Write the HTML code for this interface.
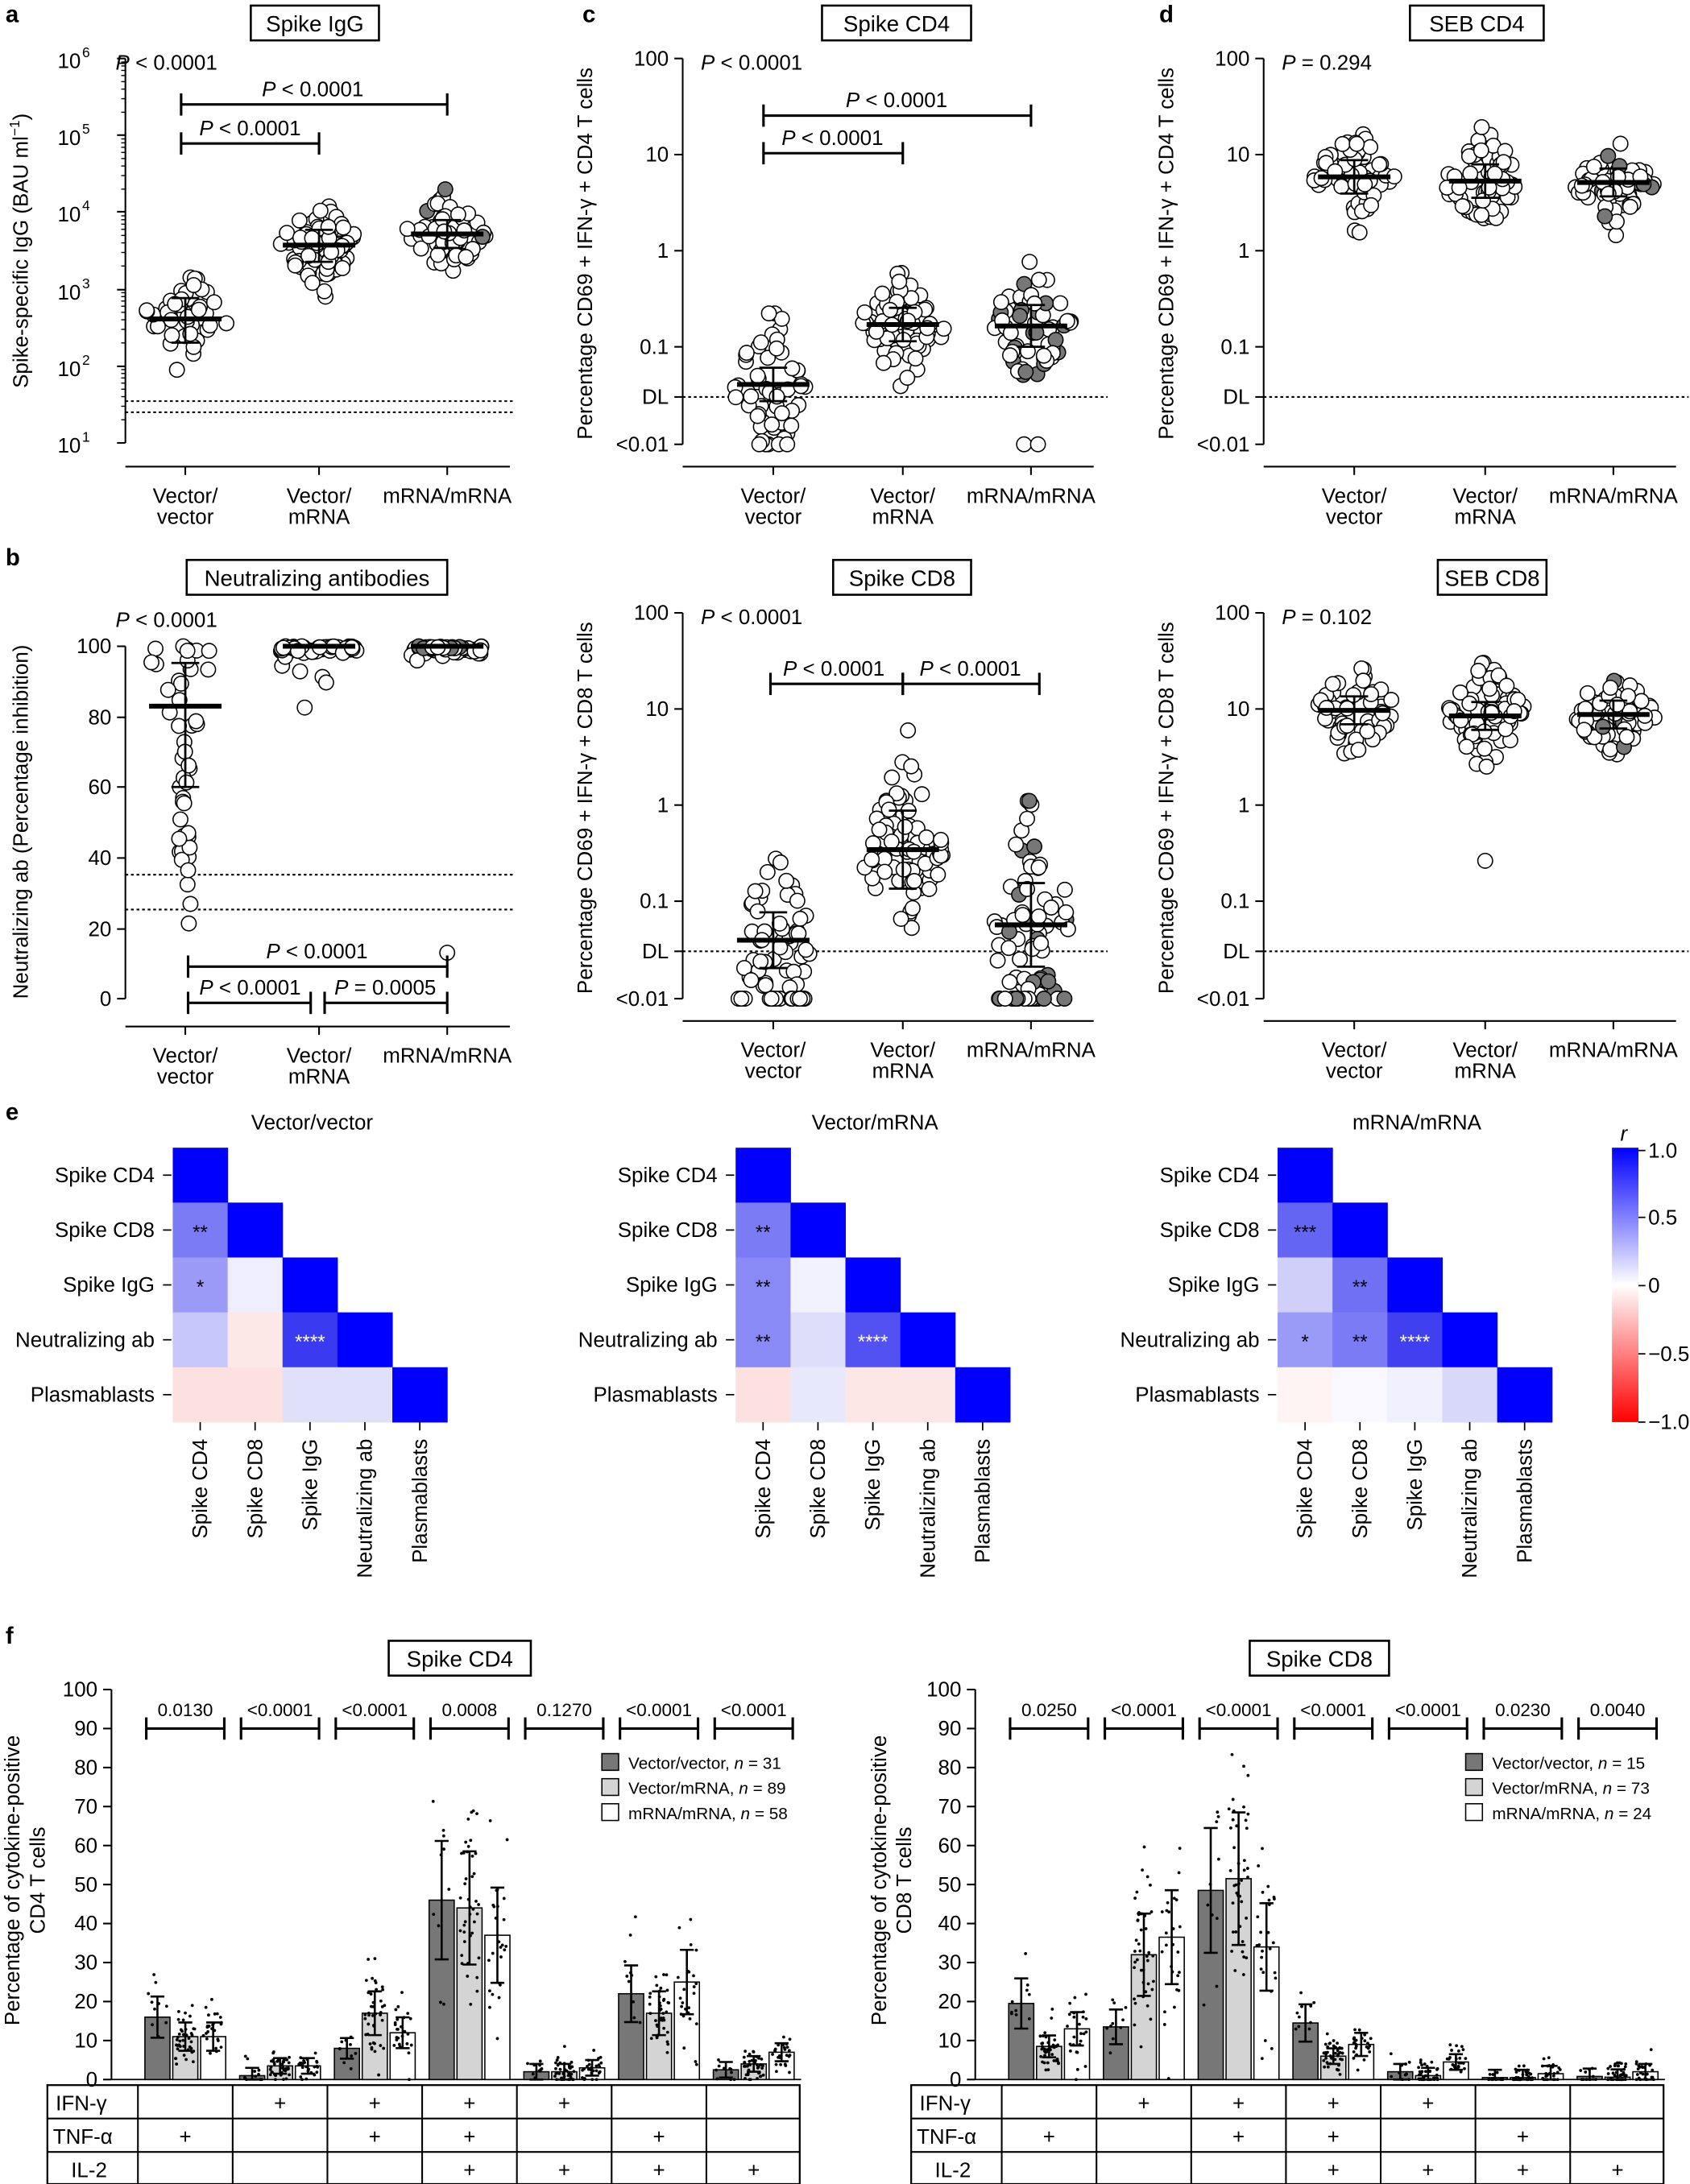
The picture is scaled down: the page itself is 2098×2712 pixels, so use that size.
<!DOCTYPE html>
<html><head><meta charset="utf-8">
<style>
html,body{margin:0;padding:0;background:#fff;}
svg{display:block;font-family:"Liberation Sans",Arial,sans-serif;}
</style></head>
<body>
<svg id="s" xmlns="http://www.w3.org/2000/svg" width="2098" height="2712" viewBox="0 0 1213 1568" preserveAspectRatio="none">
<rect width="1213" height="1568" fill="#fff"/>
</svg>
<script>
const S=document.getElementById('s');
let seed=12345;
function rnd(){seed=(seed*1103515245+12345)%2147483648;return seed/2147483648;}
function gauss(){let u=rnd()||1e-6,v=rnd();return Math.sqrt(-2*Math.log(u))*Math.cos(2*Math.PI*v);}
let out='';
function el(t,a,inner){let s='<'+t;for(const k in a)s+=' '+k+'="'+a[k]+'"';out+=inner!==undefined?s+'>'+inner+'</'+t+'>':s+'/>';}
function line(x1,y1,x2,y2,w,dash){el('line',{x1,y1,x2,y2,stroke:'#000','stroke-width':w||1.2,'stroke-dasharray':dash||'none'});}
function text(x,y,t,sz,anchor,extra){let a={x,y,'font-size':sz||15,'text-anchor':anchor||'start',fill:'#000'};if(extra)Object.assign(a,extra);el('text',a,t);}
function box(x1,y1,x2,y2,t){el('rect',{x:x1,y:y1,width:x2-x1,height:y2-y1,fill:'#fff',stroke:'#000','stroke-width':1.5});text((x1+x2)/2,(y1+y2)/2+6,t,16,'middle');}
function bracket(x1,x2,y,t,ty){line(x1,y,x2,y,1.8);line(x1,y-8,x1,y+8,1.8);line(x2,y-8,x2,y+8,1.8);if(t)text((x1+x2)/2,ty!==undefined?ty:y-6,t,15,'middle');}
function ptext(x,y,op,val){out+='<text x="'+x+'" y="'+y+'" font-size="15"><tspan font-style="italic">P</tspan> '+op+' '+val+'</text>';}
function swarm(cx,cy,sd,n,lo,hi,grey){
  for(let i=0;i<n;i++){let d=gauss()*sd;let y=Math.max(lo,Math.min(hi,cy+d));
    let w=26*Math.exp(-(d*d)/(2*sd*sd))+4;let x=cx+(rnd()*2-1)*w;
    el('circle',{cx:x.toFixed(1),cy:y.toFixed(1),r:5.3,fill:(grey&&rnd()<0.15)?'#777':'#fff',stroke:'#000','stroke-width':0.9});}
}
function medbar(cx,m,lo,hi){line(cx,lo,cx,hi,1.6);line(cx-10,lo,cx+10,lo,1.6);line(cx-10,hi,cx+10,hi,1.6);line(cx-26,m,cx+26,m,3.5);}
function letter(x,y,t){text(x,y,t,17,'start',{'font-weight':'bold'});}
function yaxis(x,ticks){
  let ys=ticks.map(t=>t[0]);line(x,Math.min(...ys),x,Math.max(...ys),1.2);
  ticks.forEach(t=>{line(x-6,t[0],x,t[0],1.2);if(typeof t[1]==='string')text(x-10,t[0]+5,t[1],15,'end');else out+=t[1](x-10,t[0]+5);});
}
function ylabel(x,y,t){out+='<text x="'+x+'" y="'+y+'" font-size="15" text-anchor="middle" transform="rotate(-90 '+x+' '+y+')">'+t+'</text>';}
function xgroups(ax,xs,y){line(ax,y,xs[2]+45,y,1.2);xs.forEach(x=>line(x,y,x,y+6,1.2));
  text(xs[0],y+26,'Vector/',15,'middle');text(xs[0],y+41,'vector',15,'middle');
  text(xs[1],y+26,'Vector/',15,'middle');text(xs[1],y+41,'mRNA',15,'middle');
  text(xs[2],y+26,'mRNA/mRNA',15,'middle');}
function pow(e){return (x,y)=>'<text x="'+(x-22)+'" y="'+(y+2)+'" font-size="15" text-anchor="end">10</text><text x="'+(x-21)+'" y="'+(y-6)+'" font-size="10" text-anchor="start">'+e+'</text>';}

// ---------- Panel a ----------
letter(4,16,'a');box(180,4,272,29,'Spike IgG');
yaxis(90,[[42,pow(6)],[97,pow(5)],[152,pow(4)],[208,pow(3)],[263,pow(2)],[318,pow(1)]]);
for(let y=42;y<318;y+=55.2){for(let k=2;k<10;k++){let yy=y+55.2*(1-Math.log10(k));line(87,yy,90,yy,0.8);}}
ylabel(20,180,'Spike-specific IgG (BAU ml<tspan font-size="10" dy="-6">−1</tspan><tspan dy="6">)</tspan>');
line(90,288,370,288,1.2,'2,2');line(90,296,370,296,1.2,'2,2');
xgroups(90,[133,229,321],335);
swarm(133,229,18,48,170,305);medbar(133,229,214,246);
swarm(229,176,14,80,130,225);medbar(229,176,165,188);
swarm(321,168,14,60,128,282,true);medbar(321,168,158,178);
ptext(83,50,'&lt;','0.0001');
bracket(130,321,75);ptext(188,69,'&lt;','0.0001');
bracket(130,229,103);ptext(143,97,'&lt;','0.0001');

// ---------- Panel b ----------
letter(4,406,'b');box(134,402,321,427,'Neutralizing antibodies');
yaxis(90,[[464,'100'],[515,'80'],[565,'60'],[616,'40'],[667,'20'],[717,'0']]);
ylabel(20,590,'Neutralizing ab (Percentage inhibition)');
line(90,628,370,628,1.2,'2,2');line(90,653,370,653,1.2,'2,2');
xgroups(90,[133,229,321],737);
for(let i=0;i<45;i++){let y=464+Math.pow(rnd(),1.8)*170;if(i<3)y=635+i*14;let w=30*Math.max(0.15,1-(y-464)/80);el('circle',{cx:(133+(rnd()*2-1)*w).toFixed(1),cy:y.toFixed(1),r:5.3,fill:'#fff',stroke:'#000','stroke-width':0.9});}
medbar(133,507,476,565);
for(let i=0;i<60;i++){let y=464+Math.abs(gauss())*2;if(i<4)y=478+i*4;if(i==4)y=508;el('circle',{cx:(229+(rnd()*2-1)*28).toFixed(1),cy:y.toFixed(1),r:5.3,fill:'#fff',stroke:'#000','stroke-width':0.9});}
line(203,464,255,464,3.5);
for(let i=0;i<55;i++){let y=464+Math.abs(gauss())*3;el('circle',{cx:(321+(rnd()*2-1)*26).toFixed(1),cy:y.toFixed(1),r:5.3,fill:rnd()<0.2?'#777':'#fff',stroke:'#000','stroke-width':0.9});}
el('circle',{cx:321,cy:684,r:5.3,fill:'#fff',stroke:'#000','stroke-width':0.9});
line(295,464,347,464,3.5);
ptext(83,450,'&lt;','0.0001');
bracket(135,321,694);ptext(191,688,'&lt;','0.0001');
bracket(135,223,720);ptext(143,714,'&lt;','0.0001');
bracket(233,321,720);ptext(240,714,'=','0.0005');

// ---------- log panels c/d ----------
function logpanel(ax,top,xs,title,tb,ylab,groups){
  let T=[[top,'100'],[top+69,'10'],[top+138,'1'],[top+207,'0.1'],[top+243,'DL'],[top+277,'&lt;0.01']];
  box(tb[0],top-38,tb[1],top-13,title);
  yaxis(ax,T);ylabel(ax-65,top+140,ylab);
  line(ax,top+243,ax+305,top+243,1.2,'2,2');
  xgroups(ax,xs,top+293);
  groups.forEach((g,i)=>{swarm(xs[i],g[0],g[1],g[2],g[3],top+277,g[5]);medbar(xs[i],g[0],g[0]-g[4],g[0]+g[4]);});
}
letter(418,16,'c');
logpanel(490,42,[555,648,740],'Spike CD4',[590,697],'Percentage CD69 + IFN-γ + CD4 T cells',
 [[276,22,55,225,12],[233,20,75,185,12,false],[234,22,60,188,15,true]]);
[[545,319],[565,319],[735,319],[745,319]].forEach(p=>el('circle',{cx:p[0],cy:p[1],r:5.3,fill:'#fff',stroke:'#000','stroke-width':0.9}));
ptext(503,50,'&lt;','0.0001');
bracket(548,740,83);ptext(607,77,'&lt;','0.0001');
bracket(548,648,110);ptext(561,104,'&lt;','0.0001');

letter(832,16,'d');
logpanel(907,42,[972,1066,1158],'SEB CD4',[1012,1108],'Percentage CD69 + IFN-γ + CD4 T cells',
 [[127,16,60,78,12],[130,16,60,85,12],[131,12,60,95,10,true]]);
out+='<text x="920" y="50" font-size="15"><tspan font-style="italic">P</tspan> = 0.294</text>';

logpanel(490,440,[555,648,740],'Spike CD8',[598,697],'Percentage CD69 + IFN-γ + CD8 T cells',
 [[675,28,55,568,20],[610,30,85,440,28],[664,40,65,575,30,true]]);
for(let i=0;i<12;i++){el('circle',{cx:(530+rnd()*50).toFixed(1),cy:717,r:5.3,fill:'#fff',stroke:'#000','stroke-width':0.9});el('circle',{cx:(715+rnd()*52).toFixed(1),cy:717,r:5.3,fill:rnd()<0.3?'#777':'#fff',stroke:'#000','stroke-width':0.9});}
ptext(503,448,'&lt;','0.0001');
bracket(553,648,491);ptext(562,485,'&lt;','0.0001');
bracket(648,746,491);ptext(660,485,'&lt;','0.0001');

logpanel(907,440,[972,1066,1158],'SEB CD8',[1032,1110],'Percentage CD69 + IFN-γ + CD8 T cells',
 [[510,16,55,450,10],[514,17,75,460,10],[513,15,60,470,10,true]]);
el('circle',{cx:1066,cy:618,r:5.3,fill:'#fff',stroke:'#000','stroke-width':0.9});
out+='<text x="920" y="448" font-size="15"><tspan font-style="italic">P</tspan> = 0.102</text>';

// ---------- Panel e ----------
letter(4,804,'e');
const rows=['Spike CD4','Spike CD8','Spike IgG','Neutralizing ab','Plasmablasts'];
function heat(x0,title,cols,stars){
  text(x0+100,811,title,15,'middle');
  const c=39.4;
  for(let i=0;i<5;i++){
    let y=824+i*c;
    text(x0-13,y+c/2+5,rows[i],15,'end');line(x0-7,y+c/2,x0-1,y+c/2,1);
    for(let j=0;j<=i;j++){
      let col=i==j?'#0000ff':cols[i][j];
      el('rect',{x:x0+j*c,y,width:c+0.3,height:c+0.3,fill:col});
      let st=stars[i]&&stars[i][j];
      if(st)text(x0+j*c+c/2,y+c/2+6,st,14,'middle',{fill:st.length==4?'#fff':'#000'});
    }
  }
  for(let j=0;j<5;j++){let x=x0+j*c+c/2;line(x,1021,x,1027,1);
    out+='<text x="'+(x+5)+'" y="1033" font-size="15" text-anchor="end" transform="rotate(-90 '+(x+5)+' 1033)">'+rows[j]+'</text>';}
}
heat(124,'Vector/vector',[[],['#7b7bf5'],['#9b9bf7','#eeeefe'],['#c6c6fa','#fde8e8','#3a3af0'],['#fde0e0','#fde0e0','#e0e0fb','#e0e0fb']],
 [[],['**'],['*'],[0,0,'****']]);
heat(528,'Vector/mRNA',[[],['#7b7bf5'],['#8a8af6','#f2f2fe'],['#8a8af6','#dedefb','#5252f2'],['#fde0e0','#e8e8fc','#fde6e6','#fde6e6']],
 [[],['**'],['**'],['**',0,'****']]);
heat(917,'mRNA/mRNA',[[],['#6565f3'],['#cfcffa','#7070f4'],['#9a9af7','#7b7bf5','#4040f0'],['#fff4f4','#f8f8fe','#f0f0fe','#d8d8fb']],
 [[],['***'],[0,'**'],['*','**','****']]);
out+='<defs><linearGradient id="cb" x1="0" y1="0" x2="0" y2="1"><stop offset="0" stop-color="#0000ff"/><stop offset="0.5" stop-color="#ffffff"/><stop offset="1" stop-color="#ff0000"/></linearGradient></defs>';
el('rect',{x:1157,y:824,width:19,height:197,fill:'url(#cb)'});
[[826,'1.0'],[874,'0.5'],[923,'0'],[972,'−0.5'],[1021,'−1.0']].forEach(t=>{line(1176,t[0],1181,t[0],1);text(1183,t[0]+5,t[1],15);});
text(1163,819,'r',15,'start',{'font-style':'italic'});

// ---------- Panel f ----------
letter(4,1180,'f');
function barchart(ax,title,tb,vals,pv,ns,ylab,lx1,lx2){
  box(tb[0],1178,tb[1],1203,title);
  const y0=1493,k=2.8;
  let T=[];for(let v=0;v<=100;v+=10)T.push([y0-v*k,''+v]);
  yaxis(ax,T);line(ax,y0,ax+495,y0,1);
  ylabel(lx1,1350,'Percentage of cytokine-positive');ylabel(lx2,1350,ylab);
  const fills=['#777','#d4d4d4','#fff'];
  for(let g=0;g<7;g++){
    let cx=ax+53+g*68;
    bracket(cx-28,cx+28,1241);text(cx,1232,pv[g],13,'middle');
    for(let b=0;b<3;b++){
      let v=vals[g][b],x=cx-29+b*20,h=v*k;
      el('rect',{x,y:y0-h,width:18,height:h,fill:fills[b],stroke:'#000','stroke-width':0.9});
      let sd=Math.max(2,v*0.33);let n=[10,40,25][b];
      for(let i=0;i<n;i++){let vv=Math.max(0,v+gauss()*sd);el('circle',{cx:(x+2+rnd()*14).toFixed(1),cy:(y0-vv*k).toFixed(1),r:1.1,fill:'#000'});}
      let lo=Math.max(0,v-sd),hi=v+sd;let cxx=x+9;
      line(cxx,y0-lo*k,cxx,y0-hi*k,1.5);line(cxx-5,y0-lo*k,cxx+5,y0-lo*k,1.5);line(cxx-5,y0-hi*k,cxx+5,y0-hi*k,1.5);
    }
  }
  let lx=ax+352;
  ['Vector/vector, ','Vector/mRNA, ','mRNA/mRNA, '].forEach((t,i)=>{let y=1259+i*18;
    el('rect',{x:lx,y,width:12,height:12,fill:fills[i],stroke:'#000','stroke-width':0.9});
    out+='<text x="'+(lx+19)+'" y="'+(y+11)+'" font-size="12">'+t+'<tspan font-style="italic">n</tspan> = '+ns[i]+'</text>';});
  let tx0=ax-46,tx1=ax+494;
  el('rect',{x:tx0,y:1497,width:tx1-tx0,height:71,fill:'none',stroke:'#000','stroke-width':1.3});
  line(tx0,1521,tx1,1521,1.2);line(tx0,1545,tx1,1545,1.2);
  for(let g=0;g<7;g++)line(ax+19+g*68,1497,ax+19+g*68,1568,1.2);
  text(tx0+6,1515,'IFN-γ',15);text(tx0+4,1539,'TNF-α',15);text(tx0+17,1563,'IL-2',15);
  const M=[[0,1,1,1,1,0,0],[1,0,1,1,0,1,0],[0,0,0,1,1,1,1]];
  M.forEach((r,ri)=>r.forEach((m,g)=>{if(m)text(ax+53+g*68,1515+ri*24,'+',15,'middle');}));
}
barchart(80,'Spike CD4',[279,381],[[16,11,11],[1,3.5,3.5],[8,17,12],[46,44,37],[2,2,3],[22,17,25],[2.5,4,7]],
 ['0.0130','&lt;0.0001','&lt;0.0001','0.0008','0.1270','&lt;0.0001','&lt;0.0001'],[31,89,58],'CD4 T cells',14,32);
barchart(700,'Spike CD8',[897,997],[[19.5,8.5,13],[13.5,32,36.5],[48.5,51.5,34],[14.5,6,9],[2,1,4.5],[0.5,0.5,1.5],[0.8,0.6,2]],
 ['0.0250','&lt;0.0001','&lt;0.0001','&lt;0.0001','&lt;0.0001','0.0230','0.0040'],[15,73,24],'CD8 T cells',636,654);
S.insertAdjacentHTML('beforeend',out);
</script>
</body></html>
